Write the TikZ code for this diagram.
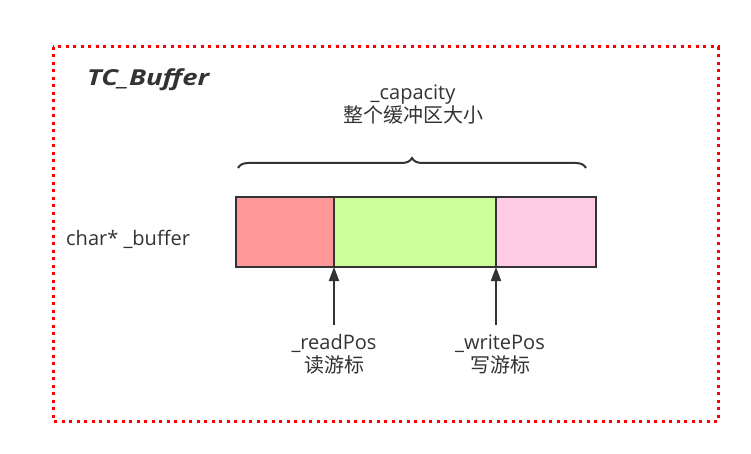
\documentclass[tikz,border=0pt]{standalone}
\usepackage{fontspec}
\setmainfont{Open Sans}
\newfontfamily\titlefont[FakeStretch=1.25]{Open Sans}
\newfontfamily\cjk{Noto Sans CJK SC}
\usetikzlibrary{arrows.meta,decorations.pathreplacing}
\definecolor{ink}{HTML}{333333}
\definecolor{cred}{HTML}{FF9999}
\definecolor{cgreen}{HTML}{CCFF99}
\definecolor{cpink}{HTML}{FFCCE6}
\tikzset{
  cell/.style={draw=ink, line width=2pt, minimum height=70pt, inner sep=0pt, outer sep=0pt, anchor=north west},
  lbl/.style={text=ink, font=\fontsize{20}{23}\selectfont, align=center, inner sep=0pt},
  ptr/.style={draw=ink, line width=2pt, -{Triangle[length=14pt,width=10pt]}},
}
\begin{document}
\begin{tikzpicture}[x=1pt,y=-1pt]
\useasboundingbox (0,0) rectangle (751,454);
\fill[white] (0,0) rectangle (751,454);
\draw[red, line width=3pt, dash pattern=on 3pt off 4.5pt] (53,47) rectangle (718,421);
\node[text=ink, font=\titlefont\fontsize{22}{24}\selectfont\bfseries\itshape, anchor=base west, inner sep=0pt] (title) at (87,86) {TC\_Buffer};
\node[cell, fill=cred, minimum width=98pt] (r) at (236,197) {};
\node[cell, fill=cgreen, minimum width=162pt] (g) at (334,197) {};
\node[cell, fill=cpink, minimum width=100pt] (p) at (496,197) {};
\node[lbl, anchor=base west] (buf) at (66,245) {char* \_buffer};
\node[lbl] (cap) at (413,104) {\_capacity\\{\cjk 整个缓冲区大小}};
\coordinate (bl) at (238,168);
\coordinate (br) at (586,168);
\draw[ink, line width=2pt, decorate, decoration={brace, amplitude=10pt, aspect=0.5}] (bl) -- (br);
\node[lbl] (rp) at (334,354) {\_readPos\\{\cjk 读游标}};
\node[lbl] (wp) at (500,354) {\_writePos\\{\cjk 写游标}};
\coordinate (ra) at ([yshift=-58pt]r.south east);
\coordinate (wa) at ([yshift=-58pt]g.south east);
\draw[ptr] (ra) -- (r.south east);
\draw[ptr] (wa) -- (g.south east);
\end{tikzpicture}
\end{document}
